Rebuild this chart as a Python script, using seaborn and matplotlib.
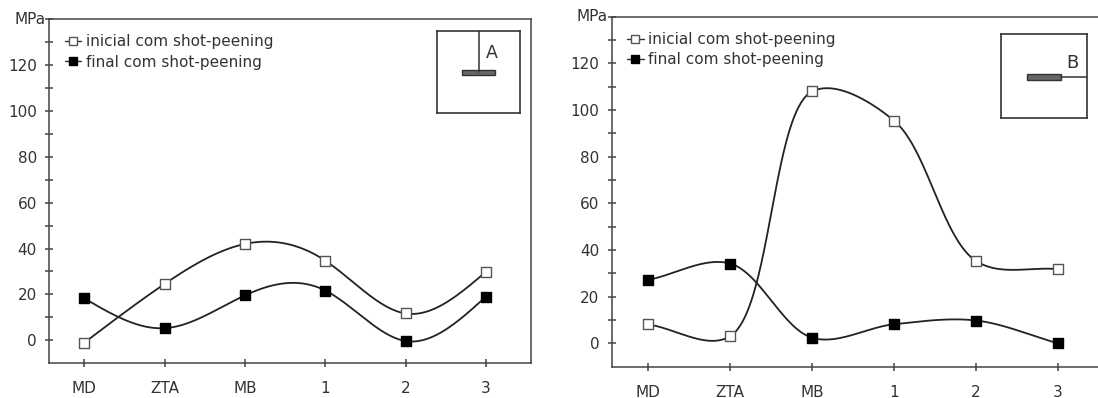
import numpy as np
import pandas as pd
import matplotlib
matplotlib.use("Agg")
import matplotlib.pyplot as plt
import seaborn as sns
from matplotlib.lines import Line2D

# ---------------- data ----------------
categories = ["MD", "ZTA", "MB", "1", "2", "3"]
a_inicial = [-1.0, 24.6, 42.0, 34.7, 11.7, 29.9]
a_final = [18.3, 5.3, 19.6, 21.7, -0.3, 19.1]
b_inicial = [8.1, 3.1, 108.0, 95.4, 35.3, 31.8]
b_final = [27.2, 34.2, 2.4, 8.2, 9.8, 0.0]
series_labels = ["inicial com shot-peening", "final com shot-peening"]
y_ticks = [0, 20, 40, 60, 80, 100, 120, 140]
y_tick_labels = ["0", "20", "40", "60", "80", "100", "120", ""]
unit_label = "MPa"
panel_tags = ["A", "B"]

sns.set_theme(style="white")
plt.rcParams["font.family"] = ["DejaVu Sans"]

W, H = 1098, 398
fig = plt.figure(figsize=(W / 100, H / 100), dpi=100)

LINE = "#222222"
TXT = "#333333"


# ---------------- smoothing helpers (drawing style of the lines) ----------------
def natural_smooth(ax, y, n=400):
    x = np.arange(len(y), dtype=float)
    y = np.asarray(y, float)
    k = len(x)
    A = np.zeros((k, k))
    r = np.zeros(k)
    A[0, 0] = A[-1, -1] = 1
    for i in range(1, k - 1):
        A[i, i - 1], A[i, i], A[i, i + 1] = 1, 4, 1
        r[i] = 6 * (y[i + 1] - 2 * y[i] + y[i - 1])
    M = np.linalg.solve(A, r)
    xx = np.linspace(0, k - 1, n)
    idx = np.clip(np.floor(xx).astype(int), 0, k - 2)
    b = xx - idx
    a = 1 - b
    yy = a * y[idx] + b * y[idx + 1] + ((a ** 3 - a) * M[idx] + (b ** 3 - b) * M[idx + 1]) / 6
    return xx, yy


def centripetal_smooth(ax, y, alpha=0.5, n=80):
    x = np.arange(len(y), dtype=float)
    P = ax.transData.transform(np.column_stack([x, np.asarray(y, float)]))
    ext = np.vstack([2 * P[0] - P[1], P, 2 * P[-1] - P[-2]])
    out = []
    for i in range(1, len(ext) - 2):
        p0, p1, p2, p3 = ext[i - 1:i + 3]
        t0 = 0.0
        t1 = t0 + np.linalg.norm(p1 - p0) ** alpha
        t2 = t1 + np.linalg.norm(p2 - p1) ** alpha
        t3 = t2 + np.linalg.norm(p3 - p2) ** alpha
        t = np.linspace(t1, t2, n)[:, None]
        A1 = (t1 - t) / (t1 - t0) * p0 + (t - t0) / (t1 - t0) * p1
        A2 = (t2 - t) / (t2 - t1) * p1 + (t - t1) / (t2 - t1) * p2
        A3 = (t3 - t) / (t3 - t2) * p2 + (t - t2) / (t3 - t2) * p3
        B1 = (t2 - t) / (t2 - t0) * A1 + (t - t0) / (t2 - t0) * A2
        B2 = (t3 - t) / (t3 - t1) * A2 + (t - t1) / (t3 - t1) * A3
        C = (t2 - t) / (t2 - t1) * B1 + (t - t1) / (t2 - t1) * B2
        out.append(C if i == 1 else C[1:])
    Q = ax.transData.inverted().transform(np.vstack(out))
    return Q[:, 0], Q[:, 1]


# ---------------- panels ----------------
def px_rect(l, t, r, b):
    return [l / W, 1 - b / H, (r - l) / W, (b - t) / H]


def panel(rect, xlim, ini, fin, smoother, show_right):
    ax = fig.add_axes(rect)
    ax.set_xlim(*xlim)
    ax.set_ylim(-10, 140)
    x = np.arange(len(categories))
    for vals in (ini, fin):
        cx, cy = smoother(ax, vals)
        sns.lineplot(x=cx, y=cy, ax=ax, sort=False, estimator=None, color=LINE, lw=1.3)
    sns.scatterplot(x=x, y=ini, ax=ax, marker="s", s=48, facecolor="white",
                    edgecolor="#555555", linewidth=1.0, zorder=5, legend=False)
    sns.scatterplot(x=x, y=fin, ax=ax, marker="s", s=48, color="black",
                    edgecolor="black", linewidth=1.0, zorder=5, legend=False)
    ax.set_xlim(*xlim)
    ax.set_ylim(-10, 140)
    ax.set_xticks(x)
    ax.set_xticklabels(categories)
    ax.set_yticks(y_ticks)
    ax.set_yticklabels(y_tick_labels)
    ax.set_yticks(np.arange(10, 140, 20), minor=True)
    ax.set_xlabel("")
    ax.set_ylabel("")
    ax.tick_params(axis="both", which="both", direction="inout", length=6, width=1.1,
                   colors="#444444", labelcolor=TXT, labelsize=11, left=True, bottom=True)
    ax.tick_params(axis="y", pad=6)
    ax.tick_params(axis="x", pad=10)
    for s in ax.spines.values():
        s.set_color("#444444")
        s.set_linewidth(1.1)
    ax.spines["right"].set_visible(show_right)
    ax.annotate(unit_label, xy=(0, 1), xycoords="axes fraction", xytext=(-3, 0),
                textcoords="offset points", ha="right", va="center", fontsize=11, color=TXT)
    handles = [
        Line2D([], [], color="#333333", lw=1, marker="s", markersize=6.3,
               markerfacecolor="white", markeredgecolor="#555555"),
        Line2D([], [], color="#333333", lw=1, marker="s", markersize=6.3,
               markerfacecolor="black", markeredgecolor="black"),
    ]
    ax.legend(handles, series_labels, loc="upper left", frameon=False, fontsize=11,
              handlelength=1.1, handletextpad=0.3, labelspacing=0.35, borderaxespad=0.6,
              labelcolor=TXT)
    return ax


axA = panel(px_rect(49.3, 19, 530.7, 363.3), (-0.436, 5.556), a_inicial, a_final,
            natural_smooth, True)
axB = panel(px_rect(611.7, 16.7, 1098, 366.7), (-0.447, 5.488), b_inicial, b_final,
            centripetal_smooth, False)

# ---------------- small schematic insets ----------------
insA = fig.add_axes(px_rect(436.7, 30.7, 520, 113.3))
insB = fig.add_axes(px_rect(1001.3, 34, 1086.7, 118.3))
for ins in (insA, insB):
    ins.set_xlim(0, 1)
    ins.set_ylim(0, 1)
    ins.set_xticks([])
    ins.set_yticks([])
    ins.patch.set_alpha(0)
    for s in ins.spines.values():
        s.set_color("#333333")
        s.set_linewidth(1.2)
insA.plot([0.505, 0.505], [1, 0.5], color="#333333", lw=1.1)
insA.add_patch(plt.Rectangle((0.305, 0.46), 0.4, 0.065, facecolor="#666666",
                             edgecolor="#333333", lw=1))
insA.text(0.66, 0.726, panel_tags[0], fontsize=12.5, color=TXT, ha="center", va="center")
insB.plot([1, 0.703], [0.493, 0.493], color="#333333", lw=1.1)
insB.add_patch(plt.Rectangle((0.304, 0.46), 0.4, 0.065, facecolor="#666666",
                             edgecolor="#333333", lw=1))
insB.text(0.83, 0.652, panel_tags[1], fontsize=13, color=TXT, ha="center", va="center")

fig.savefig("out.png", dpi=100)
